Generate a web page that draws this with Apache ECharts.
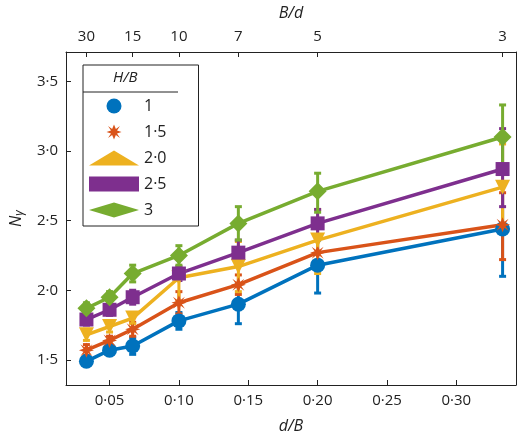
<!DOCTYPE html>
<html>
<head>
<meta charset="utf-8">
<script src="https://cdn.jsdelivr.net/npm/echarts@6/dist/echarts.min.js"></script>
<style>html,body{margin:0;padding:0;background:#fff}#chart{width:520px;height:439px}</style>
</head>
<body>
<div id="chart"></div>
<script>
// d/B positions of the tests
const dB = [1 / 30, 0.05, 1 / 15, 0.1, 1 / 7, 0.2, 1 / 3];
const topTicks = [1 / 30, 1 / 15, 0.1, 1 / 7, 0.2, 1 / 3];
const yTicks = [1.5, 2.0, 2.5, 3.0, 3.5];
const xTicks = [0.05, 0.10, 0.15, 0.20, 0.25, 0.30];

const names = ['1', '1·5', '2·0', '2·5', '3'];
const colors = ['#0072BD', '#D95319', '#EDB120', '#7E2F8E', '#77AC30'];
const symbols = ['circle', 'path://M0,-10L2.5,-4L8,-8L4,-2L10,0L4,2L8,8L2.5,4L0,10L-2.5,4L-8,8L-4,2L-10,0L-4,-2L-8,-8L-2.5,-4Z', 'triangle', 'rect', 'diamond'];
const rotations = [0, 0, 180, 0, 0];
const sizes = [15, 15, 15, 14, 18];

const values = [
    [1.49, 1.57, 1.60, 1.78, 1.90, 2.18, 2.44],
    [1.57, 1.64, 1.72, 1.91, 2.04, 2.27, 2.47],
    [1.68, 1.74, 1.80, 2.09, 2.17, 2.36, 2.74],
    [1.79, 1.86, 1.95, 2.12, 2.27, 2.48, 2.87],
    [1.87, 1.95, 2.12, 2.25, 2.48, 2.71, 3.10]
];
const lows = [
    [1.46, 1.54, 1.54, 1.72, 1.76, 1.98, 2.10],
    [1.53, 1.61, 1.67, 1.83, 1.97, 2.16, 2.22],
    [1.64, 1.70, 1.76, 1.92, 1.99, 2.12, 2.42],
    [1.75, 1.82, 1.90, 2.07, 2.18, 2.38, 2.60],
    [1.83, 1.91, 2.06, 2.18, 2.36, 2.56, 2.88]
];
const highs = [
    [1.52, 1.60, 1.66, 1.84, 2.04, 2.36, 2.78],
    [1.61, 1.67, 1.77, 1.99, 2.11, 2.38, 2.70],
    [1.72, 1.78, 1.84, 2.16, 2.35, 2.58, 3.05],
    [1.83, 1.90, 2.00, 2.17, 2.36, 2.58, 3.16],
    [1.91, 1.99, 2.18, 2.32, 2.60, 2.84, 3.33]
];

const font = 'Open Sans';
const fmt2 = v => v.toFixed(2).replace('.', '·');
const fmt1 = v => v.toFixed(1).replace('.', '·');

const series = [];
names.forEach((n, i) => {
    series.push({
        type: 'custom',
        silent: true,
        z: 1,
        data: dB.map((x, j) => [x, lows[i][j], highs[i][j]]),
        renderItem: function (params, api) {
            const lo = api.coord([api.value(0), api.value(1)]);
            const hi = api.coord([api.value(0), api.value(2)]);
            const c = 3.5;
            const st = { stroke: colors[i], lineWidth: 3 };
            return {
                type: 'group',
                children: [
                    { type: 'line', shape: { x1: lo[0], y1: lo[1], x2: hi[0], y2: hi[1] }, style: st },
                    { type: 'line', shape: { x1: lo[0] - c, y1: lo[1], x2: lo[0] + c, y2: lo[1] }, style: st },
                    { type: 'line', shape: { x1: hi[0] - c, y1: hi[1], x2: hi[0] + c, y2: hi[1] }, style: st }
                ]
            };
        }
    });
    series.push({
        name: n,
        type: 'line',
        z: 2,
        data: dB.map((x, j) => [x, values[i][j]]),
        symbol: symbols[i],
        symbolRotate: rotations[i],
        symbolSize: sizes[i],
        lineStyle: { color: colors[i], width: 3.5 },
        itemStyle: { color: colors[i] }
    });
});

const chart = echarts.init(document.getElementById('chart'));
chart.setOption({
    animation: false,
    color: colors,
    textStyle: { fontFamily: font },
    grid: { left: 62, right: 4, top: 43, bottom: 52 },
    legend: {
        orient: 'vertical',
        left: 83, top: 65,
        data: names.map((n, i) => ({ name: n, icon: symbols[i] })),
        itemWidth: 50, itemHeight: 15,
        itemGap: 10,
        padding: [33, 32, 8, 6],
        borderColor: '#222', borderWidth: 1,
        backgroundColor: '#fff',
        lineStyle: { width: 3.5 },
        textStyle: { fontFamily: font, fontSize: 16, color: '#222' }
    },
    graphic: [
        { type: 'text', left: 113, top: 70, z: 100, style: { text: 'H/B', font: 'italic 15px "Open Sans"', fill: '#222' } },
        { type: 'line', z: 100, shape: { x1: 83, y1: 92, x2: 178, y2: 92 }, style: { stroke: '#222', lineWidth: 1 } }
    ],
    xAxis: [{
        type: 'value', min: 0.0186, max: 0.343,
        name: 'd/B', nameLocation: 'middle', nameGap: 33,
        nameTextStyle: { fontStyle: 'italic', fontSize: 16, color: '#222' },
        axisLine: { lineStyle: { color: '#222' } },
        axisTick: { customValues: xTicks, length: 5, inside: true, lineStyle: { color: '#222' } },
        axisLabel: { customValues: xTicks, formatter: fmt2, fontSize: 15, color: '#222' },
        splitLine: { show: false }
    }, {
        type: 'value', position: 'top', min: 0.0186, max: 0.343,
        name: 'B/d', nameLocation: 'middle', nameGap: 31,
        nameTextStyle: { fontStyle: 'italic', fontSize: 16, color: '#222' },
        axisLine: { show: true, lineStyle: { color: '#222' } },
        axisTick: { customValues: topTicks, length: 5, inside: true, lineStyle: { color: '#222' } },
        axisLabel: { customValues: topTicks, formatter: v => String(Math.round(1 / v)), fontSize: 15, color: '#222' },
        splitLine: { show: false }
    }],
    yAxis: [{
        type: 'value', min: 1.32, max: 3.71,
        name: '{n|N}{g|γ}', nameLocation: 'middle', nameGap: 38,
        nameTextStyle: { rich: { n: { fontStyle: 'italic', fontSize: 16, color: '#222' }, g: { fontStyle: 'italic', fontSize: 12, color: '#222', verticalAlign: 'bottom', padding: [8, 0, 0, 0] } } },
        axisLine: { show: true, lineStyle: { color: '#222' } },
        axisTick: { customValues: yTicks, length: 5, inside: true, lineStyle: { color: '#222' } },
        axisLabel: { customValues: yTicks, formatter: fmt1, fontSize: 15, color: '#222' },
        splitLine: { show: false }
    }, {
        type: 'value', position: 'right', min: 1.32, max: 3.71,
        axisLine: { show: true, lineStyle: { color: '#222' } },
        axisTick: { show: false }, axisLabel: { show: false }, splitLine: { show: false }
    }],
    series: series
});
</script>
</body>
</html>
